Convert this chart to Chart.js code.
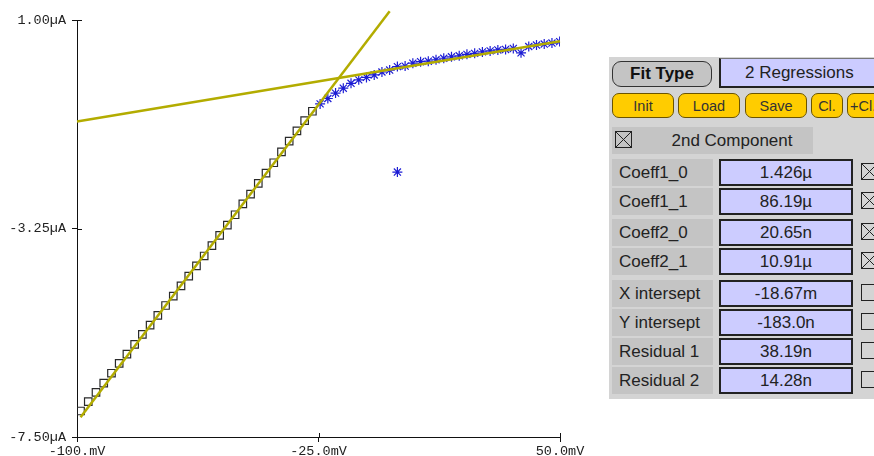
<!DOCTYPE html>
<html>
<head>
<meta charset="utf-8">
<script src="https://cdn.jsdelivr.net/npm/chart.js@4.4.0/dist/chart.umd.min.js"></script>
<style>
  html, body { margin: 0; padding: 0; background: #fff; }
  body { width: 874px; height: 456px; overflow: hidden; position: relative;
         font-family: "Liberation Sans", Arial, sans-serif; color: #222; }
  #plot { position: absolute; left: 0; top: 0; }
  .a { position: absolute; box-sizing: border-box; display: flex; align-items: center; }
  #panel { position: absolute; left: 609px; top: 57px; width: 280px; height: 342px; background: #d4d4d4; }
  .fit { left: 612px; top: 61px; width: 100px; height: 26px; border: 1.5px solid #333; border-radius: 9px;
         background: #c4c4c4; justify-content: center; font-weight: bold; font-size: 17px; color: #111; }
  .mode { left: 719px; top: 58px; width: 170px; height: 30px; background: #ccccff;
          border-left: 2px solid #222; border-bottom: 2px solid #222; border-top: 1px solid #777;
          padding-left: 24px; font-size: 17px; }
  .btn { top: 93px; height: 25px; background: #ffcc00; border: 1px solid #6b5400; border-radius: 7px;
         justify-content: center; font-size: 14.5px; color: #333; }
  .lbl { left: 612px; width: 101px; height: 27px; background: #c4c4c4; padding-left: 7px; font-size: 17px; }
  .val { left: 719px; width: 134px; height: 27px; background: #ccccff; border: 2px solid #222;
         justify-content: center; font-size: 17px; }
  .chk { left: 861px; width: 17px; height: 17px; }
</style>
</head>
<body>
<canvas id="plot" width="600" height="456"></canvas>
<div id="panel"></div>
<div class="a fit">Fit Type</div>
<div class="a mode">2 Regressions</div>
<div id="controls"></div>
<script>
// measured points (mV, µA)
const squareV = [-98.9, -96.5, -94.1, -91.7, -89.3, -86.9, -84.5, -82.1, -79.7, -77.3, -74.9,
  -72.5, -70.1, -67.7, -65.3, -62.9, -60.5, -58.1, -55.7, -53.3, -50.9, -48.5, -46.1, -43.7,
  -41.3, -38.9, -36.5, -34.1, -31.7, -29.3, -26.9];
const squareI = [-6.97, -6.78, -6.59, -6.40, -6.20, -6.00, -5.81, -5.61, -5.41, -5.22, -5.02,
  -4.82, -4.63, -4.42, -4.22, -4.01, -3.81, -3.60, -3.39, -3.18, -2.97, -2.75, -2.55, -2.33,
  -2.12, -1.91, -1.69, -1.47, -1.26, -1.05, -0.86];
const starV = [-24.5, -22.1, -19.7, -17.3, -14.9, -12.5, -10.1, -7.7, -5.3, -2.9, -0.5, 1.9,
  4.3, 6.7, 9.1, 11.5, 13.9, 16.3, 18.7, 21.1, 23.5, 25.9, 28.3, 30.7, 33.1, 35.5, 37.9, 40.3,
  42.7, 45.1, 47.5, 49.9];
const starI = [-0.71, -0.60, -0.49, -0.39, -0.29, -0.22, -0.17, -0.12, -0.06, -0.02, 0.05, 0.06,
  0.12, 0.15, 0.16, 0.19, 0.22, 0.25, 0.27, 0.30, 0.32, 0.35, 0.37, 0.39, 0.40, 0.42, 0.33, 0.46,
  0.49, 0.51, 0.53, 0.56];
const strayV = [-0.5];
const strayI = [-2.10];

// regression coefficients: offset in µA, slope in µA/V
const coeff1 = [1.426, 86.19];
const coeff2 = [0.02065, 10.91];
const fit1Range = [-98.9, -2.9];
const fit2Range = [-100, 50];

const xTicks = [-100, -25, 50];
const xTickLabels = ['-100.mV', '-25.0mV', '50.0mV'];
const yTicks = [-7.5, -3.25, 1.0];
const yTickLabels = ['-7.50µA', '-3.25µA', '1.00µA'];

// side panel
const buttonNames = ['Init', 'Load', 'Save', 'Cl.', '+Cl.'];
const paramNames = ['Coeff1_0', 'Coeff1_1', 'Coeff2_0', 'Coeff2_1', 'X intersept', 'Y intersept', 'Residual 1', 'Residual 2'];
const paramValues = ['1.426µ', '86.19µ', '20.65n', '10.91µ', '-18.67m', '-183.0n', '38.19n', '14.28n'];
const paramChecked = [true, true, true, true, false, false, false, false];

const toPts = (xs, ys) => xs.map((x, i) => ({ x: x, y: ys[i] }));
const fitLine = (c, r) => r.map(v => ({ x: v, y: c[0] + c[1] * v / 1000 }));

function checkbox(on) {
  return '<svg width="17" height="17"><rect x="0.5" y="0.5" width="16" height="16" fill="none" stroke="#222"/>' +
    (on ? '<path d="M1 1L16 16M16 1L1 16" stroke="#222" stroke-width="1"/>' : '') + '</svg>';
}

const controls = document.getElementById('controls');
let html = '';
const btnLeft = [612, 678, 745, 811, 847];
const btnWidth = [62, 62, 62, 32, 45];
buttonNames.forEach((b, i) => {
  const pad = i === 4 ? 'justify-content:flex-start;padding-left:2px;' : '';
  html += `<div class="a btn" style="left:${btnLeft[i]}px;width:${btnWidth[i]}px;${pad}">${b}</div>`;
});
html += `<div class="a lbl" style="top:127px;width:201px;padding-left:0"></div>`;
html += `<div class="a" style="left:615px;top:131px">${checkbox(true)}</div>`;
html += `<div class="a" style="left:652px;top:127px;width:160px;height:27px;justify-content:center;font-size:17px">2nd Component</div>`;
const rowTop = [159, 188, 219, 248, 280, 309, 338, 367];
paramNames.forEach((n, i) => {
  html += `<div class="a lbl" style="top:${rowTop[i]}px">${n}</div>`;
  html += `<div class="a val" style="top:${rowTop[i]}px">${paramValues[i]}</div>`;
  html += `<div class="a chk" style="top:${rowTop[i] + 4}px">${checkbox(paramChecked[i])}</div>`;
});
controls.innerHTML = html;

// short tick stubs on the inner side of both axes
const innerTicks = {
  id: 'innerTicks',
  afterDraw(chart) {
    const { ctx, chartArea } = chart;
    const xs = chart.scales.x, ys = chart.scales.y;
    ctx.save();
    ctx.strokeStyle = '#111';
    ctx.lineWidth = 1;
    ctx.beginPath();
    xTicks.forEach(v => {
      const px = Math.round(xs.getPixelForValue(v)) + 0.5;
      ctx.moveTo(px, chartArea.bottom);
      ctx.lineTo(px, chartArea.bottom - 4);
    });
    yTicks.forEach(v => {
      const py = Math.round(ys.getPixelForValue(v)) + 0.5;
      ctx.moveTo(chartArea.left, py);
      ctx.lineTo(chartArea.left + 5, py);
    });
    ctx.stroke();
    ctx.restore();
  }
};

const tickFont = { family: 'Liberation Mono', size: 13.5 };

new Chart(document.getElementById('plot'), {
  type: 'scatter',
  data: {
    datasets: [
      { data: fitLine(coeff1, fit1Range), showLine: true, borderColor: '#b3ac00', borderWidth: 2.5,
        pointRadius: 0, clip: false, order: 0 },
      { data: fitLine(coeff2, fit2Range), showLine: true, borderColor: '#b3ac00', borderWidth: 2.5,
        pointRadius: 0, clip: false, order: 0 },
      { data: toPts(squareV, squareI), pointStyle: 'rect', pointRadius: 5.3, borderColor: '#2a2a2a',
        backgroundColor: 'rgba(0,0,0,0)', borderWidth: 1.2, order: 1 },
      { data: toPts(starV.concat(strayV), starI.concat(strayI)), pointStyle: 'star', pointRadius: 5,
        borderColor: '#1c1cd4', backgroundColor: 'rgba(0,0,0,0)', borderWidth: 1.2, order: 2 }
    ]
  },
  options: {
    responsive: false,
    animation: false,
    devicePixelRatio: 1,
    layout: { padding: { left: 0, right: 40, top: 20, bottom: 0 } },
    plugins: { legend: { display: false }, tooltip: { enabled: false } },
    scales: {
      x: {
        type: 'linear', min: -100, max: 50,
        afterBuildTicks: s => { s.ticks = xTicks.map(v => ({ value: v })); },
        afterFit: s => { s.height = 19; },
        grid: { drawOnChartArea: false, tickLength: 5, color: '#111' },
        border: { color: '#111', width: 1 },
        ticks: { autoSkip: false, maxRotation: 0, padding: 1, color: '#222', font: tickFont,
                 callback: (v, i) => xTickLabels[i] }
      },
      y: {
        type: 'linear', min: -7.5, max: 1.0,
        afterBuildTicks: s => { s.ticks = yTicks.map(v => ({ value: v })); },
        afterFit: s => { s.width = 77; },
        grid: { drawOnChartArea: false, tickLength: 5, color: '#111' },
        border: { color: '#111', width: 1 },
        ticks: { autoSkip: false, padding: 6, color: '#222', font: tickFont,
                 callback: (v, i) => yTickLabels[i] }
      }
    }
  },
  plugins: [innerTicks]
});
</script>
</body>
</html>
